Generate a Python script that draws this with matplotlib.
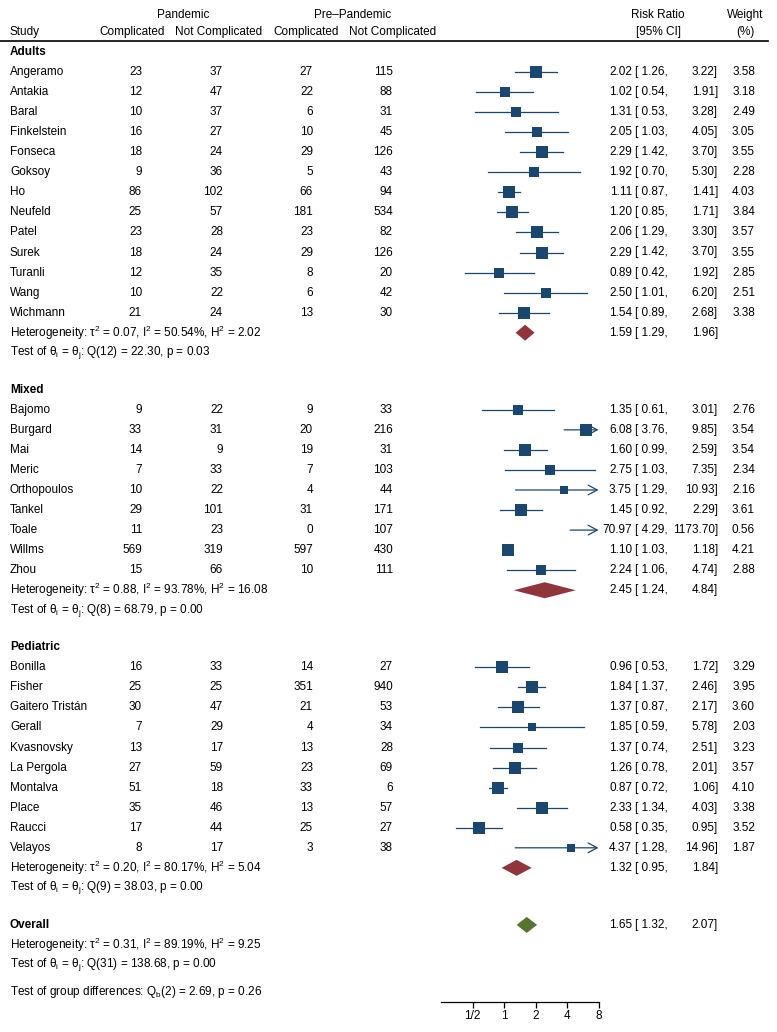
import matplotlib
matplotlib.use("Agg")
import matplotlib.pyplot as plt
import numpy as np

plt.rcParams['font.family'] = ['Liberation Sans', 'DejaVu Sans']
plt.rcParams['mathtext.fontset'] = 'custom'
plt.rcParams['mathtext.rm'] = 'Liberation Sans'
plt.rcParams['mathtext.it'] = 'Liberation Sans:italic'
plt.rcParams['mathtext.default'] = 'regular'

NAVY = '#1a476f'
MAROON = '#90353b'
GREEN = '#55752f'
FS = 8.5

# ---- data ----
group_names = ['Adults', 'Mixed', 'Pediatric']

adults_study = ['Angeramo', 'Antakia', 'Baral', 'Finkelstein', 'Fonseca', 'Goksoy', 'Ho',
                'Neufeld', 'Patel', 'Surek', 'Turanli', 'Wang', 'Wichmann']
adults_pan_c = [23, 12, 10, 16, 18, 9, 86, 25, 23, 18, 12, 10, 21]
adults_pan_nc = [37, 47, 37, 27, 24, 36, 102, 57, 28, 24, 35, 22, 24]
adults_pre_c = [27, 22, 6, 10, 29, 5, 66, 181, 23, 29, 8, 6, 13]
adults_pre_nc = [115, 88, 31, 45, 126, 43, 94, 534, 82, 126, 20, 42, 30]
adults_rr = [2.02, 1.02, 1.31, 2.05, 2.29, 1.92, 1.11, 1.20, 2.06, 2.29, 0.89, 2.50, 1.54]
adults_lo = [1.26, 0.54, 0.53, 1.03, 1.42, 0.70, 0.87, 0.85, 1.29, 1.42, 0.42, 1.01, 0.89]
adults_hi = [3.22, 1.91, 3.28, 4.05, 3.70, 5.30, 1.41, 1.71, 3.30, 3.70, 1.92, 6.20, 2.68]
adults_w = [3.58, 3.18, 2.49, 3.05, 3.55, 2.28, 4.03, 3.84, 3.57, 3.55, 2.85, 2.51, 3.38]

mixed_study = ['Bajomo', 'Burgard', 'Mai', 'Meric', 'Orthopoulos', 'Tankel', 'Toale',
               'Willms', 'Zhou']
mixed_pan_c = [9, 33, 14, 7, 10, 29, 11, 569, 15]
mixed_pan_nc = [22, 31, 9, 33, 22, 101, 23, 319, 66]
mixed_pre_c = [9, 20, 19, 7, 4, 31, 0, 597, 10]
mixed_pre_nc = [33, 216, 31, 103, 44, 171, 107, 430, 111]
mixed_rr = [1.35, 6.08, 1.60, 2.75, 3.75, 1.45, 70.97, 1.10, 2.24]
mixed_lo = [0.61, 3.76, 0.99, 1.03, 1.29, 0.92, 4.29, 1.03, 1.06]
mixed_hi = [3.01, 9.85, 2.59, 7.35, 10.93, 2.29, 1173.70, 1.18, 4.74]
mixed_w = [2.76, 3.54, 3.54, 2.34, 2.16, 3.61, 0.56, 4.21, 2.88]

ped_study = ['Bonilla', 'Fisher', 'Gaitero Tristán', 'Gerall', 'Kvasnovsky', 'La Pergola',
             'Montalva', 'Place', 'Raucci', 'Velayos']
ped_pan_c = [16, 25, 30, 7, 13, 27, 51, 35, 17, 8]
ped_pan_nc = [33, 25, 47, 29, 17, 59, 18, 46, 44, 17]
ped_pre_c = [14, 351, 21, 4, 13, 23, 33, 13, 25, 3]
ped_pre_nc = [27, 940, 53, 34, 28, 69, 6, 57, 27, 38]
ped_rr = [0.96, 1.84, 1.37, 1.85, 1.37, 1.26, 0.87, 2.33, 0.58, 4.37]
ped_lo = [0.53, 1.37, 0.87, 0.59, 0.74, 0.78, 0.72, 1.34, 0.35, 1.28]
ped_hi = [1.72, 2.46, 2.17, 5.78, 2.51, 2.01, 1.06, 4.03, 0.95, 14.96]
ped_w = [3.29, 3.95, 3.60, 2.03, 3.23, 3.57, 4.10, 3.38, 3.52, 1.87]

sub_rr = [1.59, 2.45, 1.32]
sub_lo = [1.29, 1.24, 0.95]
sub_hi = [1.96, 4.84, 1.84]
sub_tau2 = ['0.07', '0.88', '0.20']
sub_i2 = ['50.54', '93.78', '80.17']
sub_h2 = ['2.02', '16.08', '5.04']
sub_df = [12, 8, 9]
sub_q = ['22.30', '68.79', '38.03']
sub_p = ['0.03', '0.00', '0.00']

overall_rr, overall_lo, overall_hi = 1.65, 1.32, 2.07
overall_tau2, overall_i2, overall_h2 = '0.31', '89.19', '9.25'
overall_df, overall_q, overall_p = 31, '138.68', '0.00'
qb_df, qb, qb_p = 2, '2.69', '0.26'

x_ticks = [0.5, 1, 2, 4, 8]
x_tick_labels = ['1/2', '1', '2', '4', '8']

groups = [
    (adults_study, adults_pan_c, adults_pan_nc, adults_pre_c, adults_pre_nc,
     adults_rr, adults_lo, adults_hi, adults_w),
    (mixed_study, mixed_pan_c, mixed_pan_nc, mixed_pre_c, mixed_pre_nc,
     mixed_rr, mixed_lo, mixed_hi, mixed_w),
    (ped_study, ped_pan_c, ped_pan_nc, ped_pre_c, ped_pre_nc,
     ped_rr, ped_lo, ped_hi, ped_w),
]

# ---- layout (pixels) ----
W, H = 777, 1032
X_STUDY = 10
X_COLS = [142, 223, 313, 393]
X_RR, X_LO, X_HI, X_W = 632, 635, 718, 755
AX_L, AX_R, AX_Y = 441, 598.5, 1002
PITCH = 20.05
XMIN, XMAX = 0.25, 8

fig = plt.figure(figsize=(W / 100, H / 100), dpi=100)
ax_t = fig.add_axes([0, 0, 1, 1])
ax_t.set_xlim(0, W)
ax_t.set_ylim(H, 0)
ax_t.axis('off')

ax_f = fig.add_axes([AX_L / W, (H - AX_Y) / H, (AX_R - AX_L) / W, AX_Y / H])
ax_f.patch.set_visible(False)
ax_f.set_xscale('log', base=2)
ax_f.set_xlim(XMIN, XMAX)
ax_f.set_ylim(AX_Y, 0)
for s in ['top', 'left', 'right']:
    ax_f.spines[s].set_visible(False)
ax_f.spines['bottom'].set_linewidth(0.9)
ax_f.set_yticks([])
ax_f.set_xticks(x_ticks)
ax_f.set_xticklabels(x_tick_labels)
ax_f.minorticks_off()
ax_f.tick_params(axis='x', length=4, width=0.9, labelsize=FS, pad=2)


def txt(x, y, s, ha='left', bold=False):
    ax_t.text(x, y, s, ha=ha, va='center', fontsize=FS,
              fontweight='bold' if bold else 'normal')


def ci_text(y, rr, lo, hi):
    txt(X_RR, y, f"{rr:.2f}", ha='right')
    txt(X_LO, y, f"[{lo:5.2f},".replace(' ', '\u2007') if False else f"[ {lo:.2f},")
    txt(X_HI, y, f"{hi:.2f}]", ha='right')


def diamond(y, est, lo, hi, color):
    ax_f.fill([lo, est, hi, est], [y, y - 8, y, y + 8], color=color, lw=0, zorder=3)


def het_lines(y, tau2, i2, h2, df, q, p):
    txt(X_STUDY, y, r"Heterogeneity: $\tau^2$ = %s, $I^2$ = %s%%, $H^2$ = %s" % (tau2, i2, h2))
    txt(X_STUDY, y + PITCH, r"Test of $\theta_i$ = $\theta_j$: Q(%d) = %s, p = %s" % (df, q, p))


# header
txt(183, 15, 'Pandemic', ha='center')
txt(353, 15, 'Pre\u2013Pandemic', ha='center')
txt(X_STUDY, 32, 'Study')
for xc, lab in zip([132, 219, 306, 393], ['Complicated', 'Not Complicated',
                                        'Complicated', 'Not Complicated']):
    txt(xc, 32, lab, ha='center')
txt(658, 15, 'Risk Ratio', ha='center')
txt(658, 32, '[95% CI]', ha='center')
txt(745, 15, 'Weight', ha='center')
txt(745, 32, '(%)', ha='center')
ax_t.plot([0, 768], [41, 41], color='black', lw=1.2)

y = 52
for gi, (names, pc, pnc, prc, prnc, rr, lo, hi, w) in enumerate(groups):
    txt(X_STUDY, y, group_names[gi], bold=True)
    y += PITCH
    for k in range(len(names)):
        txt(X_STUDY, y, names[k])
        for xc, v in zip(X_COLS, [pc[k], pnc[k], prc[k], prnc[k]]):
            txt(xc, y, str(v), ha='right')
        ci_text(y, rr[k], lo[k], hi[k])
        txt(X_W, y, f"{w[k]:.2f}", ha='right')
        if hi[k] > XMAX:
            ax_f.annotate('', xy=(XMAX, y), xytext=(lo[k], y),
                          arrowprops=dict(arrowstyle='->,head_length=0.65,head_width=0.35',
                                          color=NAVY, lw=0.9, shrinkA=0, shrinkB=0,
                                          mutation_scale=10), zorder=2)
        else:
            ax_f.plot([lo[k], hi[k]], [y, y], color=NAVY, lw=0.9, zorder=2)
        side = 6.1 * np.sqrt(w[k]) * 0.72
        ax_f.scatter([rr[k]], [y], marker='s', s=side ** 2, color=NAVY,
                     linewidths=0, zorder=3)
        y += PITCH
    diamond(y, sub_rr[gi], sub_lo[gi], sub_hi[gi], MAROON)
    het_lines(y, sub_tau2[gi], sub_i2[gi], sub_h2[gi], sub_df[gi], sub_q[gi], sub_p[gi])
    ci_text(y, sub_rr[gi], sub_lo[gi], sub_hi[gi])
    y += PITCH + 37

txt(X_STUDY, y, 'Overall', bold=True)
diamond(y, overall_rr, overall_lo, overall_hi, GREEN)
ci_text(y, overall_rr, overall_lo, overall_hi)
y += PITCH
het_lines(y, overall_tau2, overall_i2, overall_h2, overall_df, overall_q, overall_p)
y += PITCH + 27
txt(X_STUDY, y, r"Test of group differences: $Q_b$(%d) = %s, p = %s" % (qb_df, qb, qb_p))

fig.savefig('out.png', dpi=100)
